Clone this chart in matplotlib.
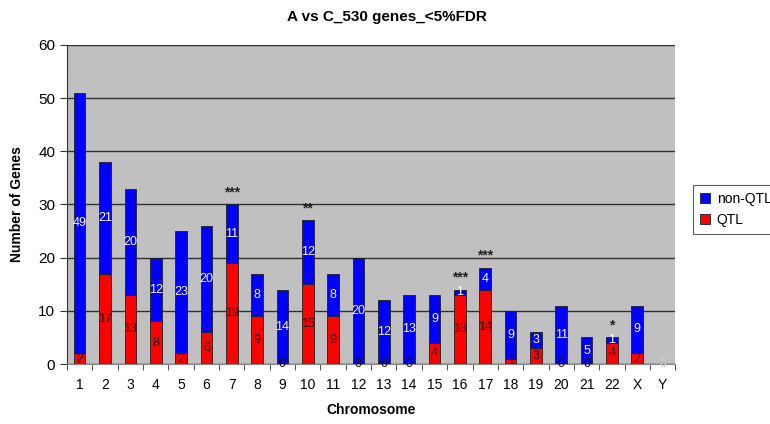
import matplotlib
matplotlib.use("Agg")
import numpy as np
from matplotlib import pyplot as plt
from matplotlib.ticker import FixedLocator

plt.rcParams["font.family"] = ["Liberation Sans", "DejaVu Sans"]

# ---- data ----
chromosomes = ["1", "2", "3", "4", "5", "6", "7", "8", "9", "10", "11", "12",
               "13", "14", "15", "16", "17", "18", "19", "20", "21", "22", "X", "Y"]
qtl = [2, 17, 13, 8, 2, 6, 19, 9, 0, 15, 9, 0, 0, 0, 4, 13, 14, 1, 3, 0, 0, 4, 2, 0]
non_qtl = [49, 21, 20, 12, 23, 20, 11, 8, 14, 12, 8, 20, 12, 13, 9, 1, 4, 9, 3, 11, 5, 1, 9, 0]
stars = {"7": "***", "10": "**", "16": "***", "17": "***", "22": "*"}

x = np.arange(len(chromosomes))
qtl = np.array(qtl)
non_qtl = np.array(non_qtl)
total = qtl + non_qtl

fig = plt.figure(figsize=(7.7, 4.24), dpi=100)
ax = fig.add_axes([0.087, 0.1415, 0.79, 0.7525])
ax.set_facecolor("#C0C0C0")

w = 0.46
ax.bar(x, qtl, width=w, color="#FF0000", edgecolor="#202020", linewidth=0.6, label="QTL", zorder=3)
ax.bar(x, non_qtl, bottom=qtl, width=w, color="#0000FF", edgecolor="#202020", linewidth=0.6,
       label="non-QTL", zorder=3)

# segment labels: QTL dark, non-QTL white
for i in range(len(x)):
    ax.text(x[i], qtl[i] / 2, str(qtl[i]), ha="center", va="center", fontsize=9,
            color="#111111", zorder=4)
    ax.text(x[i], qtl[i] + non_qtl[i] / 2, str(non_qtl[i]), ha="center", va="center",
            fontsize=9, color="white", zorder=5)

# significance stars sit just above the bar tops
for c, s in stars.items():
    i = chromosomes.index(c)
    ax.text(x[i], total[i] + 1.0, s, ha="center", va="bottom", fontsize=10,
            fontweight="bold", color="#222222", zorder=4)

ax.set_xlim(-0.5, len(x) - 0.5)
ax.set_ylim(0, 60)
ax.set_yticks(np.arange(0, 61, 10))
ax.yaxis.grid(True, color="#303030", linewidth=1.0, zorder=1)
ax.set_axisbelow(True)

ax.set_xticks(x)
ax.set_xticklabels(chromosomes, fontsize=10)
ax.xaxis.set_minor_locator(FixedLocator(np.arange(-0.5, len(x), 1.0)))
ax.tick_params(axis="x", which="major", length=0, pad=10)
ax.tick_params(axis="x", which="minor", length=4, direction="out", color="#333333")
ax.tick_params(axis="y", which="major", length=5, direction="out", labelsize=11, color="#333333")

for side in ["top", "right"]:
    ax.spines[side].set_visible(False)
ax.spines["left"].set_color("#333333")
ax.spines["bottom"].set_color("#888888")

ax.set_xlabel("Chromosome", fontsize=10, fontweight="bold", labelpad=8)
ax.set_ylabel("Number of Genes", fontsize=10, fontweight="bold", labelpad=10)

fig.text(387 / 770, 1 - 17 / 424, "A vs C_530 genes_<5%FDR", ha="center", va="center",
         fontsize=11, fontweight="bold")

handles, labels = ax.get_legend_handles_labels()
leg = fig.legend(handles[::-1], labels[::-1], loc="upper left",
                 bbox_to_anchor=(686 / 770, 1 - 178 / 424), frameon=True, fancybox=False,
                 edgecolor="#333333", fontsize=10, handlelength=0.7, handleheight=0.7,
                 handletextpad=0.5, borderpad=0.5, labelspacing=0.5)
leg.get_frame().set_linewidth(0.8)

fig.savefig("out.png", dpi=100)
